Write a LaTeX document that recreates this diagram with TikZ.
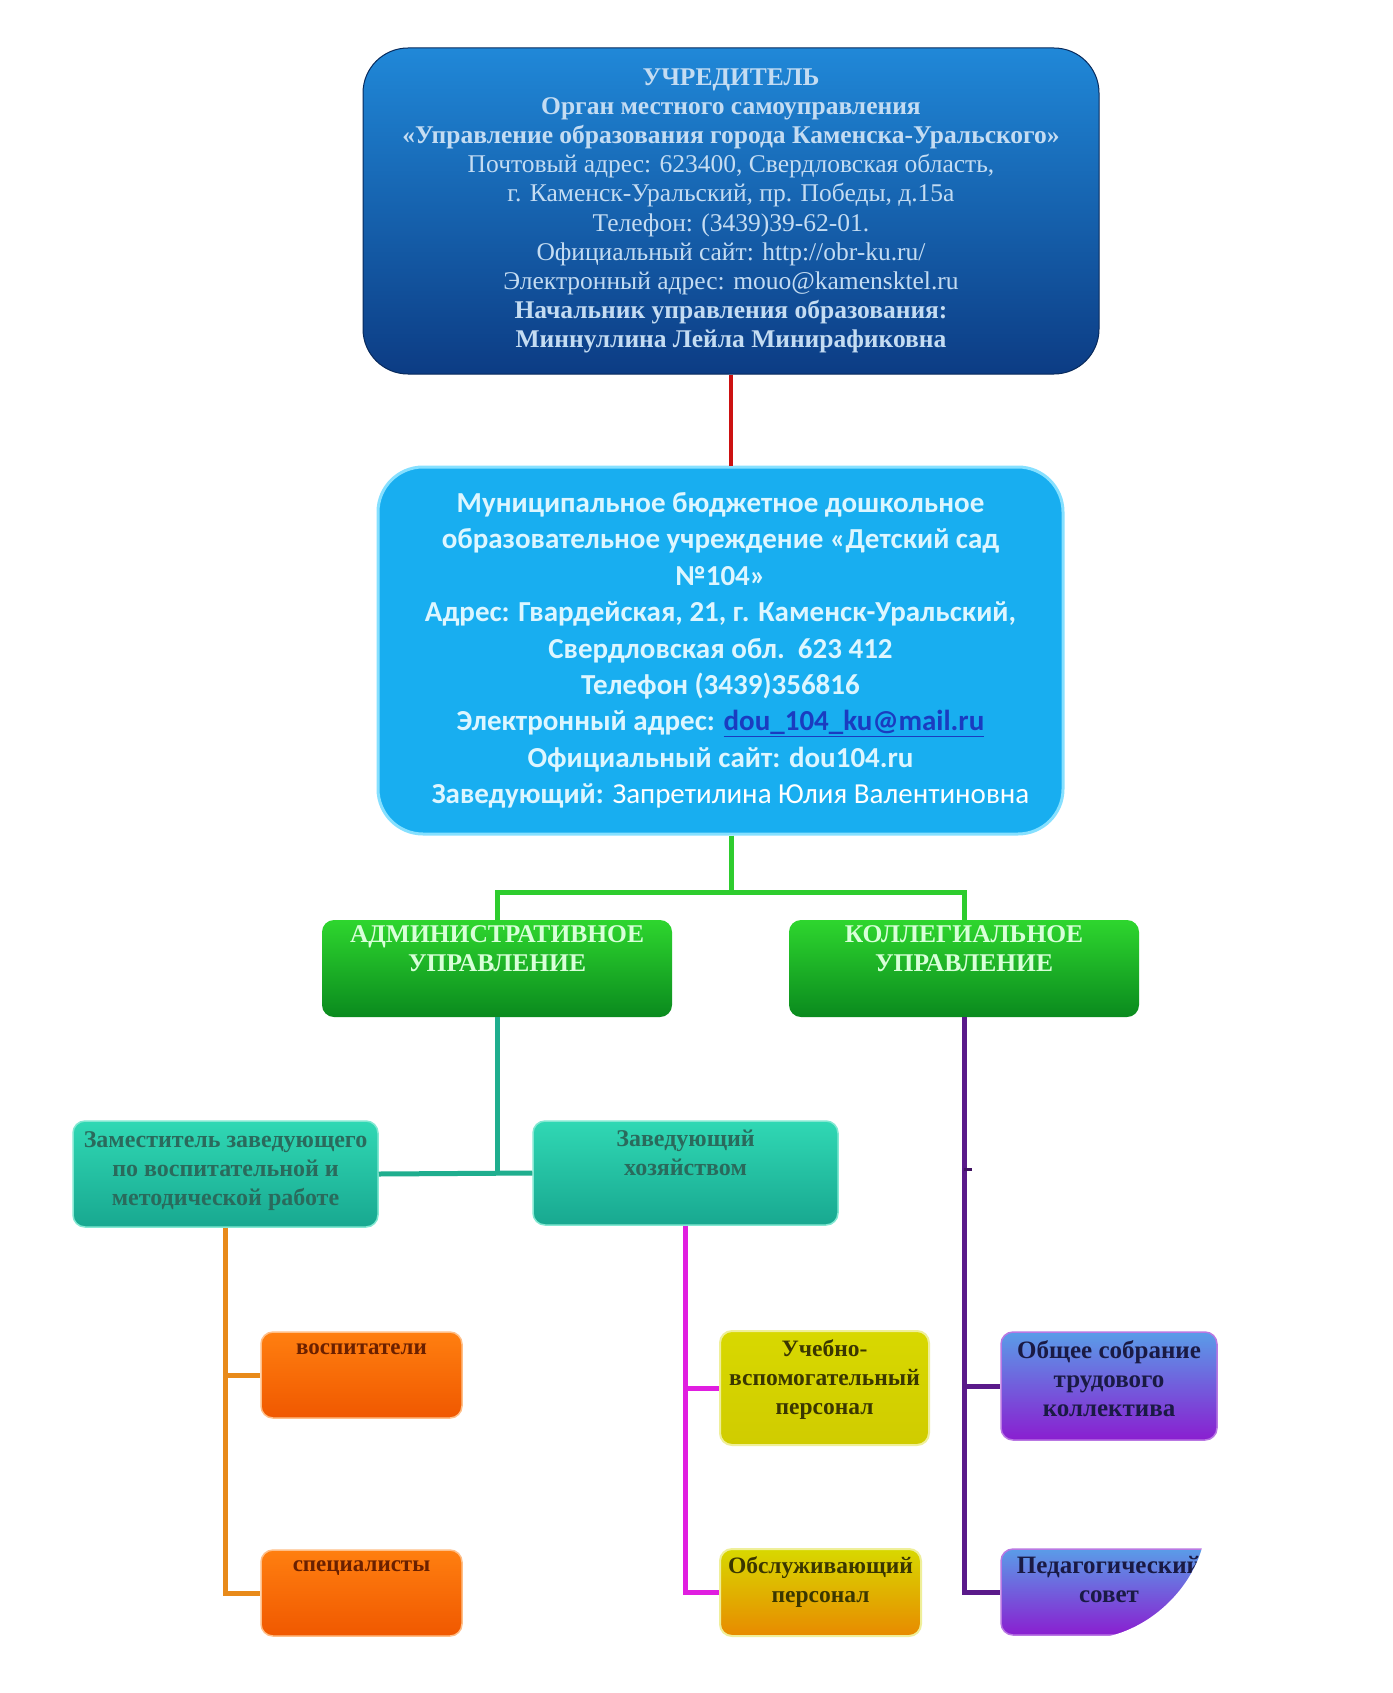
\documentclass[tikz,border=0pt]{standalone}
\usepackage{fontspec}
\setmainfont{Liberation Serif}
\newfontfamily\calfont{Carlito}
\usetikzlibrary{calc}
\definecolor{topA}{HTML}{2088D8}
\definecolor{topB}{HTML}{0C3C84}
\definecolor{topTxt}{HTML}{C4DCF2}
\definecolor{midFill}{HTML}{18AEF0}
\definecolor{midEdge}{HTML}{86E0FF}
\definecolor{midTxt}{HTML}{DDF6FF}
\definecolor{linkblue}{HTML}{1A3CC0}
\definecolor{grA}{HTML}{2ED62E}
\definecolor{grB}{HTML}{0A8A1E}
\definecolor{grTxt}{HTML}{D8FFD8}
\definecolor{tlA}{HTML}{30D8B4}
\definecolor{tlB}{HTML}{18A890}
\definecolor{tlTxt}{HTML}{2A6A5C}
\definecolor{orA}{HTML}{FF7F10}
\definecolor{orB}{HTML}{F05800}
\definecolor{orTxt}{HTML}{6A2000}
\definecolor{ylA}{HTML}{D8D800}
\definecolor{ylB}{HTML}{D0CC00}
\definecolor{obB}{HTML}{E88A00}
\definecolor{ylTxt}{HTML}{3A3600}
\definecolor{puA}{HTML}{5A9CE8}
\definecolor{puB}{HTML}{8A1ED0}
\definecolor{puTxt}{HTML}{1A1A44}
\definecolor{cRed}{HTML}{CC1111}
\definecolor{cGreen}{HTML}{2ECC2E}
\definecolor{cTeal}{HTML}{1FAE8E}
\definecolor{cOrange}{HTML}{E88A1A}
\definecolor{cMag}{HTML}{E01EE0}
\definecolor{cPurple}{HTML}{5A1A8A}
\begin{document}
\begin{tikzpicture}[x=1pt,y=-1pt,
  bx/.style={inner sep=0pt, rounded corners=12pt},
  conn/.style={line width=5pt},
  lbl/.style={anchor=north, inner sep=0pt, align=center, font=\bfseries\fontsize{23}{29}\selectfont},
  lblR/.style={lbl, font=\bfseries\fontsize{25}{29}\selectfont}
]
\useasboundingbox[fill=white] (0,0) rectangle (1392,1693);

% top box
\node[bx, rounded corners=45pt, minimum width=736pt, minimum height=326pt,
  top color=topA, bottom color=topB, draw=topB!70!black, line width=1pt] (top) at (731,211) {};
\node[inner sep=0pt, align=center, text=topTxt, font=\fontsize{25.5}{29.2}\selectfont] (topt) at (top.center)
 {{\bfseries УЧРЕДИТЕЛЬ}\\
  {\bfseries Орган местного самоуправления}\\
  {\bfseries «Управление образования города Каменска-Уральского»}\\
  Почтовый адрес: 623400, Свердловская область,\\
  г. Каменск-Уральский, пр. Победы, д.15а\\
  Телефон: (3439)39-62-01.\\
  Официальный сайт: http://obr-ku.ru/\\
  Электронный адрес: mouo@kamensktel.ru\\
  {\bfseries Начальник управления образования:}\\
  {\bfseries Миннуллина Лейла Минирафиковна}};

% middle box
\node[bx, rounded corners=45pt, minimum width=685pt, minimum height=367pt,
  fill=midFill, draw=midEdge, line width=3pt] (mid) at (720.5,650.5) {};
\node[inner sep=0pt, align=center, text=midTxt, font=\calfont\bfseries\fontsize{29}{36.4}\selectfont] (midt) at (mid.center)
 {Муниципальное бюджетное дошкольное\\
  образовательное учреждение «Детский сад\\
  №104»\\
  Адрес: Гвардейская, 21, г. Каменск-Уральский,\\
  Свердловская обл.\ \ 623 412\\
  Телефон (3439)356816\\
  Электронный адрес: {\color{linkblue}\underline{dou\_104\_ku@mail.ru}}\\
  Официальный сайт: dou104.ru\\
  \hspace*{20pt}Заведующий: {\mdseries\color{white}Запретилина Юлия Валентиновна}};

% green boxes
\node[bx, minimum width=350pt, minimum height=97pt, top color=grA, bottom color=grB] (admin) at (497,968.5) {};
\node[lbl, text=grTxt, font=\bfseries\fontsize{25.5}{29}\selectfont] (admint) at ($(admin.north)+(0,6)$) {АДМИНИСТРАТИВНОЕ\\УПРАВЛЕНИЕ};
\node[bx, minimum width=350pt, minimum height=97pt, top color=grA, bottom color=grB] (coll) at (964,968.5) {};
\node[lbl, text=grTxt, font=\bfseries\fontsize{25.5}{29}\selectfont] (collt) at ($(coll.north)+(0,6)$) {КОЛЛЕГИАЛЬНОЕ\\УПРАВЛЕНИЕ};

% teal boxes
\node[bx, minimum width=305pt, minimum height=106pt, top color=tlA, bottom color=tlB, draw=tlA!60!white, line width=1.5pt] (zam) at (225.5,1174) {};
\node[lbl, text=tlTxt, font=\bfseries\fontsize{24}{29}\selectfont] (zamt) at ($(zam.north)+(0,11)$) {Заместитель заведующего\\по воспитательной и\\методической работе};
\node[bx, minimum width=305pt, minimum height=104pt, top color=tlA, bottom color=tlB, draw=tlA!60!white, line width=1.5pt] (zav) at (685.5,1173) {};
\node[lbl, text=tlTxt, font=\bfseries\fontsize{24}{29}\selectfont] (zavt) at ($(zav.north)+(0,10)$) {Заведующий\\хозяйством};

% orange boxes
\node[bx, minimum width=201pt, minimum height=86pt, top color=orA, bottom color=orB, draw=orA!50!white, line width=1.5pt] (vosp) at (361.5,1375) {};
\node[lbl, text=orTxt] (vospt) at ($(vosp.north)+(0,12)$) {воспитатели};
\node[bx, minimum width=201pt, minimum height=86pt, top color=orA, bottom color=orB, draw=orA!50!white, line width=1.5pt] (spec) at (361.5,1593) {};
\node[lbl, text=orTxt] (spect) at ($(spec.north)+(0,11)$) {специалисты};

% yellow boxes
\node[bx, minimum width=209pt, minimum height=114pt, top color=ylA, bottom color=ylB, draw=ylA!40!white, line width=2pt] (ucheb) at (824.5,1388) {};
\node[lbl, text=ylTxt, font=\bfseries\fontsize{23.5}{29}\selectfont] (uchebt) at ($(ucheb.north)+(0,9)$) {Учебно-\\вспомогательный\\персонал};
\node[bx, minimum width=201pt, minimum height=87pt, top color=ylA, bottom color=obB, draw=ylA!40!white, line width=2pt] (obsl) at (820.5,1592.5) {};
\node[lbl, text=ylTxt, font=\bfseries\fontsize{23.5}{29}\selectfont] (obslt) at ($(obsl.north)+(0,8)$) {Обслуживающий\\персонал};

% purple boxes
\node[bx, minimum width=216pt, minimum height=108pt, top color=puA, bottom color=puB, draw=puB!60!white, line width=1.5pt] (obsh) at (1109,1386) {};
\node[lblR, text=puTxt] (obsht) at ($(obsh.north)+(0,9)$) {Общее собрание\\трудового\\коллектива};
\node[bx, minimum width=216pt, minimum height=86pt, top color=puA, bottom color=puB, draw=puB!60!white, line width=1.5pt] (ped) at (1109,1592) {};
\node[lblR, text=puTxt] (pedt) at ($(ped.north)+(0,8)$) {Педагогический\\совет};
% cut corner of the last box
\fill[white] (1202,1548) .. controls (1190,1590) and (1150,1630) .. (1100,1638)
  -- (1100,1650) -- (1225,1650) -- (1225,1540) -- cycle;

% connectors
\coordinate (gbar) at (0,892);
\coordinate (midbot) at (top.south |- mid.south);
\draw[cRed, line width=4pt] (top.south) -- (top.south |- mid.north);
\draw[cGreen, conn] (midbot) -- (midbot |- gbar);
\draw[cGreen, conn] (admin.north) -- (admin.north |- gbar) -- (coll.north |- gbar) -- (coll.north);
\draw[cTeal, conn] (admin.south) -- (admin.south |- zam.east);
\draw[cTeal, conn] (zam.east) -- (zav.west);
\draw[cOrange, conn] (zam.south) |- (vosp.west);
\draw[cOrange, conn] (zam.south) |- (spec.west);
\draw[cMag, conn] (zav.south) |- (ucheb.west);
\draw[cMag, conn] (zav.south) |- (obsl.west);
\draw[cPurple, conn] (coll.south) |- (obsh.west);
\draw[cPurple, conn] (coll.south) |- (ped.west);
\coordinate (tick) at (972,1169);
\draw[cPurple!70!black, line width=3pt] (coll.south |- tick) -- (tick);
\end{tikzpicture}
\end{document}
